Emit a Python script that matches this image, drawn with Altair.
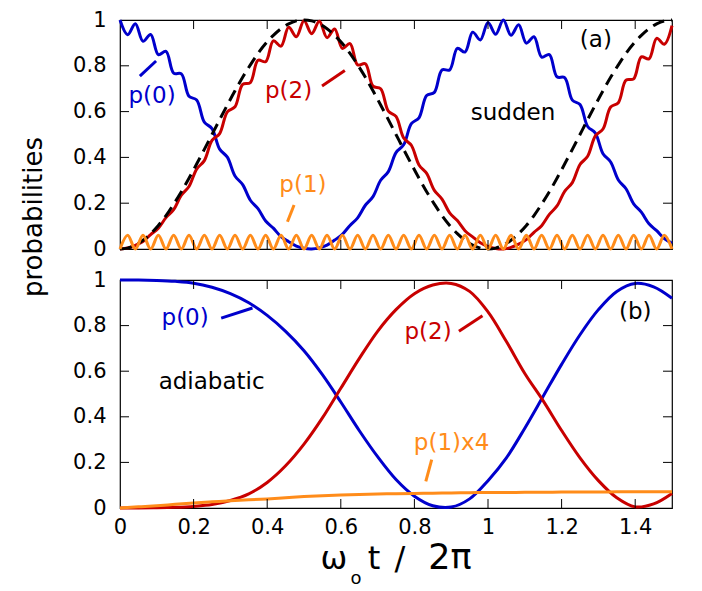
import altair as alt
import pandas as pd

FONT = "DejaVu Sans"
BLUE, RED, ORANGE = "#0000cc", "#c80000", "#ff8c1a"

# ---------------- panel (a): sudden ----------------
t_a = [0, 0.0208, 0.0417, 0.0625, 0.0833, 0.1042, 0.125, 0.1458, 0.1667, 0.1875,
       0.2083, 0.2292, 0.25, 0.2708, 0.2917, 0.3125, 0.3333, 0.3542, 0.375, 0.3958,
       0.4167, 0.4375, 0.4583, 0.4792, 0.5, 0.5208, 0.5417, 0.5625, 0.5833, 0.6042,
       0.625, 0.6458, 0.6667, 0.6875, 0.7083, 0.7292, 0.75, 0.7708, 0.7917, 0.8125,
       0.8333, 0.8542, 0.875, 0.8958, 0.9167, 0.9375, 0.9583, 0.9792, 1.0, 1.0208,
       1.0417, 1.0625, 1.0833, 1.1042, 1.125, 1.1458, 1.1667, 1.1875, 1.2083, 1.2292,
       1.25, 1.2708, 1.2917, 1.3125, 1.3333, 1.3542, 1.375, 1.3958, 1.4167, 1.4375,
       1.4583, 1.4792, 1.5]
a_p0 = [1.0, .936, .984, .907, .937, .849, .863, .768, .765, .667,
        .651, .554, .526, .436, .401, .319, .281, .213, .176, .122,
        .091, .054, .032, .013, .003, .0, .005, .017, .039, .064,
        .103, .136, .191, .229, .300, .338, .421, .455, .547, .573,
        .670, .684, .782, .782, .876, .860, .947, .913, .989, .938,
        1.0, .933, .979, .899, .927, .838, .849, .752, .748, .650,
        .631, .535, .506, .416, .380, .301, .263, .197, .161, .110,
        .080, .046, .025]
a_p1 = [0, .06, 0, .06, 0, .06, 0, .06, 0, .06,
        0, .06, 0, .06, 0, .06, 0, .06, 0, .06,
        0, .06, 0, .06, 0, .06, 0, .06, 0, .06,
        0, .06, 0, .06, 0, .06, 0, .06, 0, .06,
        0, .06, 0, .06, 0, .06, 0, .06, 0, .06,
        0, .06, 0, .06, 0, .06, 0, .06, 0, .06,
        0, .06, 0, .06, 0, .06, 0, .06, 0, .06,
        0, .06, 0]
a_p2 = [0, .004, .016, .033, .063, .091, .137, .172, .235, .273,
        .349, .386, .474, .504, .599, .621, .719, .727, .824, .818,
        .909, .886, .968, .927, .997, .940, .995, .923, .961, .876,
        .897, .804, .809, .711, .700, .602, .579, .485, .453, .367,
        .330, .256, .218, .158, .124, .080, .053, .027, .011, .002,
        0, .007, .021, .041, .073, .102, .151, .188, .252, .290,
        .369, .405, .494, .524, .620, .639, .737, .743, .839, .830,
        .920, .894, .975]
a_ref = [0, .004, .017, .038, .067, .103, .146, .196, .25, .309,
         .371, .435, .5, .565, .629, .691, .75, .804, .854, .897,
         .933, .962, .983, .996, 1.0, .996, .983, .962, .933, .897,
         .854, .804, .75, .691, .629, .565, .5, .435, .371, .309,
         .25, .196, .146, .103, .067, .038, .017, .004, 0, .004,
         .017, .038, .067, .103, .146, .196, .25, .309, .371, .435,
         .5, .565, .629, .691, .75, .804, .854, .897, .933, .962,
         .983, .996, 1.0]

# ---------------- panel (b): adiabatic ----------------
t_b = [0, 0.05, 0.1, 0.15, 0.2, 0.25, 0.3, 0.35, 0.4, 0.45, 0.5, 0.55, 0.6, 0.65,
       0.7, 0.75, 0.8, 0.85, 0.9, 0.95, 1.0, 1.05, 1.1, 1.15, 1.2, 1.25, 1.3, 1.35,
       1.4, 1.45, 1.5]
b_p0 = [1.0, 1.0, 0.998, 0.994, 0.986, 0.968, 0.94, 0.9, 0.845, 0.775, 0.69,
        0.585, 0.465, 0.34, 0.225, 0.125, 0.052, 0.01, 0.004, 0.04, 0.12, 0.22,
        0.35, 0.49, 0.63, 0.76, 0.87, 0.95, 0.985, 0.97, 0.92]
b_p1x4 = [0, 0.005, 0.01, 0.016, 0.022, 0.027, 0.032, 0.036, 0.04, 0.045, 0.05,
          0.054, 0.057, 0.059, 0.061, 0.063, 0.064, 0.065, 0.066, 0.067, 0.068,
          0.068, 0.069, 0.069, 0.07, 0.07, 0.07, 0.071, 0.071, 0.071, 0.071]
b_p2 = [0, 0, 0.001, 0.003, 0.007, 0.015, 0.033, 0.062, 0.112, 0.185, 0.28,
        0.395, 0.525, 0.655, 0.775, 0.87, 0.94, 0.978, 0.985, 0.95, 0.86, 0.73,
        0.59, 0.47, 0.34, 0.22, 0.12, 0.045, 0.005, 0.018, 0.064]

x_labels = [0, 0.2, 0.4, 0.6, 0.8, 1.0, 1.2, 1.4]
y_labels = [0, 0.2, 0.4, 0.6, 0.8, 1.0]
x_ticks = [0.2, 0.4, 0.6, 0.8, 1.0, 1.2, 1.4]
y_ticks = [0.2, 0.4, 0.6, 0.8]

# annotations
a_text = ["p(0)", "p(2)", "p(1)", "sudden", "(a)"]
a_tx = [0.087, 0.458, 0.497, 1.068, 1.293]
a_ty = [0.668, 0.69, 0.28, 0.594, 0.913]
a_tc = [BLUE, RED, ORANGE, "black", "black"]
a_lx = [0.054, 0.549, 0.455]
a_lx2 = [0.098, 0.611, 0.473]
a_ly = [0.755, 0.712, 0.119]
a_ly2 = [0.821, 0.779, 0.192]
a_lc = [BLUE, RED, ORANGE]

b_text = ["p(0)", "adiabatic", "p(2)", "p(1)x4", "(b)"]
b_tx = [0.177, 0.249, 0.837, 0.901, 1.4]
b_ty = [0.833, 0.553, 0.772, 0.285, 0.86]
b_tc = [BLUE, "black", RED, ORANGE, "black"]
b_lx = [0.275, 0.921, 0.831]
b_lx2 = [0.36, 0.985, 0.847]
b_ly = [0.833, 0.775, 0.117]
b_ly2 = [0.877, 0.843, 0.212]
b_lc = [BLUE, RED, ORANGE]

W, H1, H2 = 552, 229, 228
xs = alt.Scale(domain=[0, 1.5], nice=False, zero=False)
ys = alt.Scale(domain=[0, 1], nice=False)

yaxis = alt.Axis(values=y_labels, format="~g", ticks=False, domain=False, grid=False,
                 labelFont=FONT, labelFontSize=21, labelColor="black", labelPadding=14,
                 title=None)
xaxis_b = alt.Axis(values=x_labels, format="~g", ticks=False, domain=False, grid=False,
                   labelFont=FONT, labelFontSize=21, labelColor="black", labelPadding=8,
                   labelFlush=False, title=None)


def panel(df, H, series, xaxis, texts, leaders):
    layers = []
    for col, color, dash in series:
        kw = dict(color=color, strokeWidth=3, interpolate="catmull-rom")
        if dash:
            kw["strokeDash"] = dash
        layers.append(alt.Chart(df).mark_line(**kw).encode(
            x=alt.X("t:Q", scale=xs, axis=xaxis),
            y=alt.Y(f"{col}:Q", scale=ys, axis=yaxis)))
    tdf = pd.DataFrame(texts)
    layers.append(alt.Chart(tdf).mark_text(font=FONT, fontSize=23, baseline="middle").encode(
        x=alt.X("x:Q", scale=xs, axis=xaxis), y=alt.Y("y:Q", scale=ys, axis=yaxis),
        text="label:N", color=alt.Color("c:N", scale=None)))
    ldf = pd.DataFrame(leaders)
    layers.append(alt.Chart(ldf).mark_rule(strokeWidth=3).encode(
        x=alt.X("x:Q", scale=xs, axis=xaxis), x2="x2:Q",
        y=alt.Y("y:Q", scale=ys, axis=yaxis), y2="y2:Q",
        color=alt.Color("c:N", scale=None)))
    xt = pd.DataFrame({"v": x_ticks})
    yt = pd.DataFrame({"v": y_ticks})
    for y0, y1 in [(H, H - 9), (0, 9)]:
        layers.append(alt.Chart(xt).mark_rule(color="black", strokeWidth=1).encode(
            x=alt.X("v:Q", scale=xs, axis=xaxis), y=alt.value(y0), y2=alt.value(y1)))
    for x0, x1 in [(0, 9), (W, W - 9)]:
        layers.append(alt.Chart(yt).mark_rule(color="black", strokeWidth=1).encode(
            y=alt.Y("v:Q", scale=ys, axis=yaxis), x=alt.value(x0), x2=alt.value(x1)))
    return layers


df_a = pd.DataFrame({"t": t_a, "p0": a_p0, "p1": a_p1, "p2": a_p2, "ref": a_ref})
df_b = pd.DataFrame({"t": t_b, "p0": b_p0, "p1": b_p1x4, "p2": b_p2})

dummy = pd.DataFrame({"d": [0]})

top_layers = panel(
    df_a, H1,
    [("p0", BLUE, None), ("p2", RED, None), ("ref", "black", [12, 7]), ("p1", ORANGE, None)],
    None,
    {"label": a_text, "x": a_tx, "y": a_ty, "c": a_tc},
    {"x": a_lx, "x2": a_lx2, "y": a_ly, "y2": a_ly2, "c": a_lc})
top_layers.append(alt.Chart(dummy).mark_text(
    text="probabilities", angle=270, fontSize=26, font=FONT, color="black",
    align="center", baseline="middle").encode(x=alt.value(-86), y=alt.value(197)))
top = alt.layer(*top_layers).properties(width=W, height=H1)

bot_layers = panel(
    df_b, H2,
    [("p0", BLUE, None), ("p2", RED, None), ("p1", ORANGE, None)],
    xaxis_b,
    {"label": b_text, "x": b_tx, "y": b_ty, "c": b_tc},
    {"x": b_lx, "x2": b_lx2, "y": b_ly, "y2": b_ly2, "c": b_lc})
for txt, xx, yy, fs in [("ω", 214, 289, 32), ("o", 236, 304, 18),
                        ("t", 254, 289, 32), ("/", 280, 289, 32),
                        ("2π", 330, 289, 35)]:
    bot_layers.append(alt.Chart(dummy).mark_text(
        text=txt, fontSize=fs, font=FONT, color="black", align="center",
        baseline="alphabetic").encode(x=alt.value(xx), y=alt.value(yy)))
bottom = alt.layer(*bot_layers).properties(width=W, height=H2)

chart = alt.vconcat(top, bottom, spacing=31, bounds="flush").properties(
    padding={"left": 12, "top": 0, "right": 5, "bottom": 2}
).configure_view(stroke="black", strokeWidth=1.2)

chart.save("out.html", embed_options={"renderer": "svg", "actions": False})
